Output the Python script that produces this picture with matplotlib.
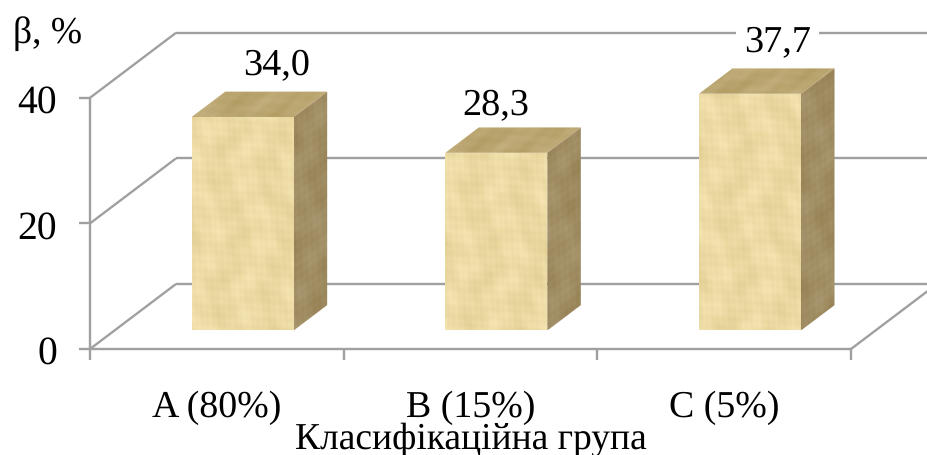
import matplotlib
matplotlib.use('Agg')
import matplotlib.pyplot as plt
from matplotlib.patches import Polygon
from matplotlib.transforms import Affine2D
import numpy as np

plt.rcParams['text.hinting'] = 'none'

categories = ['A (80%)', 'B (15%)', 'C (5%)']
values = [34.0, 28.3, 37.7]
value_labels = ['34,0', '28,3', '37,7']
y_ticks = [0, 20, 40]

W, H = 927, 456
X0, Y0 = 90, 350          # front corner of the floor, pixels
CAT_W = 253.67            # pixels per category
UNIT = 6.28               # pixels per percent
DEPTH_X = 86 / CAT_W      # wall depth in data units
DEPTH_Y = 65 / UNIT
BAR_W = 102 / CAT_W
BAR_D0, BAR_D1 = 0.30, 0.69
GRID = '#a0a0a0'
FONT = 'Liberation Serif'

fig = plt.figure(figsize=(W / 100, H / 100), dpi=100)
ax = fig.add_axes([0, 0, 1, 1])
xlim = (-X0 / CAT_W, (W - X0) / CAT_W)
ylim = ((Y0 - H) / UNIT, Y0 / UNIT)


def wood(rows, cols, base, phase=0.0):
    # uneven woven grain built from a few sines
    yy, xx = np.mgrid[0:rows, 0:cols]
    grain = (np.sin(yy * 0.71 + xx * 0.05 + phase) * 0.18
             + np.sin(yy * 0.19 + np.sin(xx * 0.07) * 2 + phase) * 0.3
             + np.sin(xx * 1.13 + yy * 0.04 + phase) * 0.16
             + np.sin(xx * 0.13 + np.sin(yy * 0.05 + phase) * 1.5) * 0.45
             + np.sin(xx * 0.37 + yy * 0.11 + 2 * phase) * 0.22)
    tex = np.array(base) + grain[..., None] * np.array([8, 9, 12]) / 255
    return np.clip(tex, 0, 1)


def face(tex, corner, u, v):
    # map a texture on to the parallelogram corner, corner+u, corner+u+v, corner+v
    aff = Affine2D.from_values(u[0], u[1], v[0], v[1], corner[0], corner[1])
    im = ax.imshow(tex, extent=(0, 1, 0, 1), origin='lower', aspect='auto', interpolation='bilinear',
                   transform=aff + ax.transData, zorder=3)
    pts = [corner, (corner[0] + u[0], corner[1] + u[1]),
           (corner[0] + u[0] + v[0], corner[1] + u[1] + v[1]), (corner[0] + v[0], corner[1] + v[1])]
    clip = Polygon(pts, transform=ax.transData, fc='none', ec='none')
    ax.add_patch(clip)
    im.set_clip_path(clip)


# walls and floor
grid_kw = dict(color=GRID, lw=1.7, solid_capstyle='butt', zorder=1)
for t in y_ticks:
    ax.plot([0, DEPTH_X], [t, t + DEPTH_Y], **grid_kw)
    ax.plot([DEPTH_X, 3 + DEPTH_X], [t + DEPTH_Y, t + DEPTH_Y], **grid_kw)
    ax.plot([-11 / CAT_W, 0], [t, t], **grid_kw)
ax.plot([0, 0], [0, y_ticks[-1]], **grid_kw)
ax.plot([0, 3], [0, 0], **grid_kw)
ax.plot([3, 3 + DEPTH_X], [0, DEPTH_Y], **grid_kw)
for i in range(len(categories) + 1):
    ax.plot([i, i], [0, -11 / UNIT], **grid_kw)

# bars as three textured faces
for i, val in enumerate(values):
    x = i + 0.5 + BAR_D0 * DEPTH_X - BAR_W / 2
    y = BAR_D0 * DEPTH_Y - 1 / UNIT
    dx = (BAR_D1 - BAR_D0) * DEPTH_X
    dy = (BAR_D1 - BAR_D0) * DEPTH_Y
    h = int(val * UNIT)
    face(wood(h, 102, (0.925, 0.855, 0.640), i), (x, y), (BAR_W, 0), (0, val))
    face(wood(26, 102, (0.730, 0.650, 0.440), i), (x, y + val), (BAR_W, 0), (dx, dy))
    face(wood(h, 34, (0.625, 0.550, 0.385), i + 1), (x + BAR_W, y), (dx, dy), (0, val))

# value labels sit under the bars so their white box only cuts the grid lines
label_offsets = [(34.5, 42), (-0.5, 37.5), (27.5, 42)]
for i, (val, txt) in enumerate(zip(values, value_labels)):
    ox, oy = label_offsets[i]
    x = i + 0.5 + BAR_D0 * DEPTH_X + ox / CAT_W
    y = BAR_D0 * DEPTH_Y + val + oy / UNIT
    ax.text(x, y, txt, ha='center', va='baseline', family=FONT, fontsize=27.5, color='black', zorder=2,
            bbox=dict(fc='white', ec='none', pad=6))

for t in y_ticks:
    ax.text(-33 / CAT_W, t - 15 / UNIT, str(t), ha='right', va='baseline', family=FONT, fontsize=28.5)
for i, c in enumerate(categories):
    ax.text(i + 0.5, -67 / UNIT, c, ha='center', va='baseline', family=FONT, fontsize=27.3)
ax.text(1.5, -99 / UNIT, 'Класифікаційна група', ha='center', va='baseline', family=FONT, fontsize=27)
ax.text(-77 / CAT_W, 307 / UNIT, 'β, %', ha='left', va='baseline', family=FONT, fontsize=27)

ax.set_xlim(xlim)
ax.set_ylim(ylim)
ax.axis('off')
fig.savefig('out.png', dpi=100, facecolor='white')
